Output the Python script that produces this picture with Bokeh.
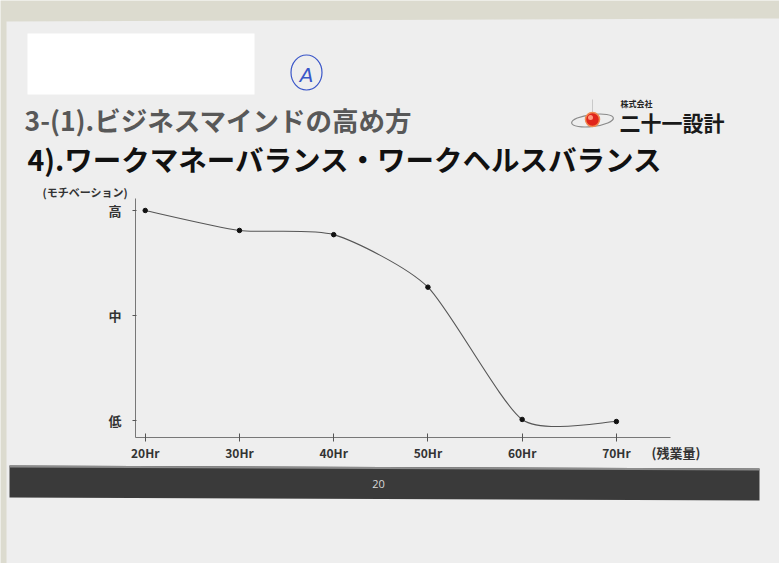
import numpy as np
from bokeh.plotting import figure
from bokeh.models import Range1d, LinearAxis, FixedTicker
from bokeh.core.properties import value
from bokeh.embed import file_html
from bokeh.resources import INLINE

# overtime hours vs. motivation level (1 = 低, 2 = 中, 3 = 高)
hours = [20, 30, 40, 50, 60, 70]
hour_labels = ["20Hr", "30Hr", "40Hr", "50Hr", "60Hr", "70Hr"]
motivation = [3.0, 2.81, 2.77, 2.27, 1.01, 0.99]
level_ticks = [1, 2, 3]
level_labels = ["低", "中", "高"]

title_main = "3-(1).ビジネスマインドの高め方"
title_sub = "4).ワークマネーバランス・ワークヘルスバランス"
y_title = "(モチベーション)"
x_title = "(残業量)"
company_small = "株式会社"
company_name = "二十一設計"
page_number = "20"

JP = "Noto Sans CJK JP"

p = figure(width=779, height=563, min_border=0, toolbar_location=None,
           output_backend="svg", x_axis_type=None, y_axis_type=None,
           x_range=Range1d(4.64, 87.31), y_range=Range1d(-0.362, 5.0))
p.outline_line_color = None
p.background_fill_color = "#dcdbcf"
p.border_fill_color = "#dcdbcf"

# pixel-space range for the page decoration
p.extra_x_ranges = {"px": Range1d(0, 779)}
p.extra_y_ranges = {"px": Range1d(563, 0)}
PX = dict(x_range_name="px", y_range_name="px")

# sheet of paper
p.patch([6, 777, 779, 779, 6], [21, 18, 18, 563, 563], fill_color="#eeeeee",
        line_color=None, **PX)
# blank box top-left
p.quad(left=27, right=254, top=33, bottom=94, fill_color="#ffffff",
       line_color=None, **PX)
# circled "A"
p.ellipse(x=306, y=72, width=31, height=35, fill_color=None,
          line_color="#3a56c8", line_width=1.2, **PX)
p.text(x=[306], y=[74], text=["A"], text_font=value("DejaVu Sans"),
       text_font_size="20px", text_color="#3a56c8", text_align="center",
       text_baseline="middle", text_font_style="italic", **PX)

# headings
p.text(x=[24], y=[119], text=[title_main], text_font=value(JP),
       text_font_size="26.5px", text_font_style="bold", text_color="#585858",
       text_baseline="middle", **PX)
p.text(x=[27], y=[158], text=[title_sub], text_font=value(JP),
       text_font_size="28.5px", text_font_style="bold", text_color="#111111",
       text_baseline="middle", **PX)

# company logo
p.segment(x0=[592], y0=[99], x1=[592], y1=[112], line_color="#c9c9c9",
          line_width=1, **PX)
p.ellipse(x=592, y=120, width=42, height=12, angle=0.12, fill_color=None,
          line_color="#8a8a8a", line_width=1.2, **PX)
p.scatter(x=[592], y=[119], size=14, fill_color="#e0251b", line_color="#f08a50",
          line_width=1.5, **PX)
p.scatter(x=[590], y=[117], size=5, fill_color="#ff9a80", line_color=None, **PX)
p.text(x=[620], y=[103], text=[company_small], text_font=value(JP),
       text_font_size="8px", text_font_style="bold", text_color="#222222",
       text_baseline="middle", **PX)
p.text(x=[619], y=[121], text=[company_name], text_font=value(JP),
       text_font_size="21px", text_font_style="bold", text_color="#1a1a1a",
       text_baseline="middle", **PX)

# axis titles
p.text(x=[42], y=[191], text=[y_title], text_font=value(JP),
       text_font_size="11px", text_font_style="bold", text_color="#333333",
       text_baseline="middle", **PX)
p.text(x=[651], y=[452], text=[x_title], text_font=value(JP),
       text_font_size="13px", text_font_style="bold", text_color="#333333",
       text_baseline="middle", **PX)

# footer bar with page number
p.patch([9, 759, 759, 9], [465, 468, 500, 497], fill_color="#3a3a3a",
        line_color=None, **PX)
p.segment(x0=[9], y0=[466], x1=[759], y1=[469], line_color="#8c8c8c",
          line_width=2, **PX)
p.text(x=[378], y=[483], text=[page_number], text_font=value("Open Sans"),
       text_font_size="11px", text_color="#d8d8d8", text_align="center",
       text_baseline="middle", **PX)

# smooth curve through the points (cardinal spline as cubic Beziers)
smooth = 0.11
xs = np.array(hours, dtype=float)
ys = np.array(motivation, dtype=float)
xpad = np.concatenate([[xs[0]], xs, [xs[-1]]])
ypad = np.concatenate([[ys[0]], ys, [ys[-1]]])
n = len(xs)
x0, y0 = xs[:-1], ys[:-1]
x1, y1 = xs[1:], ys[1:]
cx0 = x0 + (xpad[2:n + 1] - xpad[0:n - 1]) * smooth
cy0 = y0 + (ypad[2:n + 1] - ypad[0:n - 1]) * smooth
cx1 = x1 - (xpad[3:n + 2] - xpad[1:n]) * smooth
cy1 = y1 - (ypad[3:n + 2] - ypad[1:n]) * smooth
p.bezier(x0=x0, y0=y0, x1=x1, y1=y1, cx0=cx0, cy0=cy0, cx1=cx1, cy1=cy1,
         line_color="#555555", line_width=1.1)
p.scatter(hours, motivation, size=4.5, fill_color="#111111", line_color="#111111")

# axes drawn at fixed positions inside the frame
xaxis = LinearAxis(fixed_location=0.838, bounds=(18.97, 75.74),
                   ticker=FixedTicker(ticks=hours),
                   major_label_overrides=dict(zip(hours, hour_labels)))
xaxis.axis_line_color = "#777777"
xaxis.major_tick_line_color = "#555555"
xaxis.major_tick_in = 4
xaxis.major_tick_out = 4
xaxis.minor_tick_line_color = None
xaxis.major_label_standoff = 2
xaxis.major_label_text_font = JP
xaxis.major_label_text_font_size = "12px"
xaxis.major_label_text_font_style = "bold"
xaxis.major_label_text_color = "#333333"
p.add_layout(xaxis, "below")

yaxis = LinearAxis(fixed_location=18.97, bounds=(0.838, 3.114),
                   ticker=FixedTicker(ticks=level_ticks),
                   major_label_overrides=dict(zip(level_ticks, level_labels)))
yaxis.axis_line_color = "#777777"
yaxis.major_tick_line_color = "#555555"
yaxis.major_tick_in = 1
yaxis.major_tick_out = 3
yaxis.minor_tick_line_color = None
yaxis.major_label_standoff = 11
yaxis.major_label_orientation = "horizontal"
yaxis.major_label_text_font = JP
yaxis.major_label_text_font_size = "13px"
yaxis.major_label_text_font_style = "bold"
yaxis.major_label_text_color = "#333333"
p.add_layout(yaxis, "left")

open("out.html", "w").write(file_html(p, INLINE))
